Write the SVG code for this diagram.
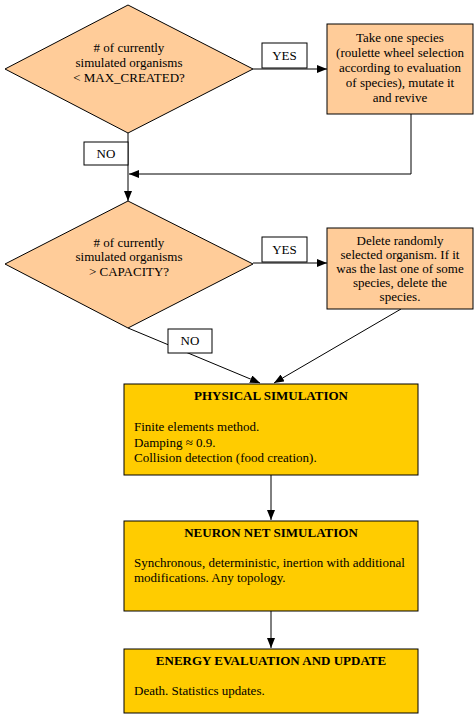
<svg xmlns="http://www.w3.org/2000/svg" width="474" height="714" viewBox="0 0 474 714">
<defs>
<marker id="ah" markerWidth="10" markerHeight="8" refX="10" refY="4" orient="auto" markerUnits="userSpaceOnUse">
<path d="M0,0 L10,4 L0,8 Z" fill="#000"/>
</marker>
<style>
.dec{fill:#FFCC99;stroke:#000;stroke-width:1}
.proc{fill:#FFCC99;stroke:#000;stroke-width:1}
.sim{fill:#FFCC00;stroke:#000;stroke-width:1}
.lbl{fill:#fff;stroke:#000;stroke-width:1}
.ln{fill:none;stroke:#000;stroke-width:1}
text{font-family:"Liberation Serif","Times New Roman",serif;font-size:13px;fill:#000}
.c{text-anchor:middle}
.b{font-weight:bold}
</style>
</defs>
<rect width="474" height="714" fill="#fff"/>
<g id="connectors">
<line class="ln" x1="253" y1="69" x2="327" y2="69" marker-end="url(#ah)"/>
<polyline class="ln" points="411,114 411,174 129,174" marker-end="url(#ah)"/>
<line class="ln" x1="128" y1="133" x2="128" y2="201" marker-end="url(#ah)"/>
<line class="ln" x1="253" y1="263" x2="327" y2="263" marker-end="url(#ah)"/>
<line class="ln" x1="128" y1="328" x2="260" y2="383" marker-end="url(#ah)"/>
<line class="ln" x1="401" y1="309" x2="274" y2="383" marker-end="url(#ah)"/>
<line class="ln" x1="271" y1="475" x2="271" y2="520" marker-end="url(#ah)"/>
<line class="ln" x1="271" y1="611" x2="271" y2="648" marker-end="url(#ah)"/>
</g>
<g id="yes1"><rect class="lbl" x="262" y="43" width="45" height="25"/><text class="c" x="284.5" y="60">YES</text></g>
<g id="no1"><rect class="lbl" x="84" y="142" width="44" height="23"/><text class="c" x="106" y="158">NO</text></g>
<g id="yes2"><rect class="lbl" x="262" y="237" width="45" height="25"/><text class="c" x="284.5" y="254">YES</text></g>
<g id="no2"><rect class="lbl" x="168" y="329" width="44" height="24"/><text class="c" x="190" y="345">NO</text></g>
<g id="decision1">
<polygon class="dec" points="128,5 253,69 128,133 5,69"/>
<text class="c" x="129" y="52">#  of currently</text>
<text class="c" x="129" y="67">simulated organisms</text>
<text class="c" x="129" y="82">&lt; MAX_CREATED?</text>
</g>
<g id="mutate">
<rect class="proc" x="327" y="24" width="146" height="90"/>
<text class="c" x="400" y="42">Take one species</text>
<text class="c" x="400" y="57">(roulette wheel selection</text>
<text class="c" x="400" y="72">according to evaluation</text>
<text class="c" x="400" y="87">of species), mutate it</text>
<text class="c" x="400" y="102">and revive</text>
</g>
<g id="decision2">
<polygon class="dec" points="128,201 253,264 128,328 5,264"/>
<text class="c" x="129" y="247">#  of currently</text>
<text class="c" x="129" y="261">simulated organisms</text>
<text class="c" x="129" y="276">&gt; CAPACITY?</text>
</g>
<g id="delete">
<rect class="proc" x="327" y="228" width="146" height="81"/>
<text class="c" x="400" y="245">Delete randomly</text>
<text class="c" x="400" y="259">selected organism. If it</text>
<text class="c" x="400" y="273">was the last one of some</text>
<text class="c" x="400" y="287">species, delete the</text>
<text class="c" x="400" y="301">species.</text>
</g>
<g id="physical">
<rect class="sim" x="124" y="384" width="294" height="91"/>
<text class="c b" x="271" y="400">PHYSICAL SIMULATION</text>
<text x="134" y="431">Finite elements method.</text>
<text x="134" y="447">Damping ≈ 0.9.</text>
<text x="134" y="462">Collision detection (food creation).</text>
</g>
<g id="neuron">
<rect class="sim" x="124" y="521" width="294" height="90"/>
<text class="c b" x="271" y="537">NEURON NET SIMULATION</text>
<text x="134" y="567">Synchronous, deterministic, inertion with additional</text>
<text x="134" y="582">modifications. Any topology.</text>
</g>
<g id="energy">
<rect class="sim" x="124" y="649" width="294" height="64"/>
<text class="c b" x="271" y="665">ENERGY EVALUATION AND UPDATE</text>
<text x="134" y="695">Death. Statistics updates.</text>
</g>
</svg>
